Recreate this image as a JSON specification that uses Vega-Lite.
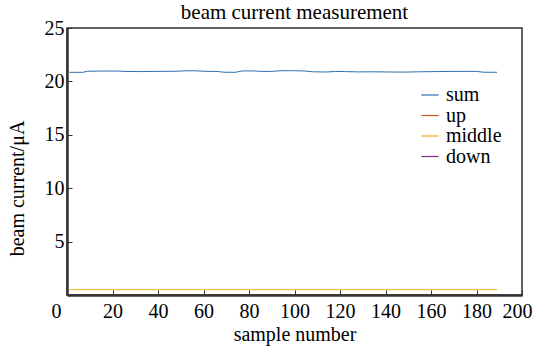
{
  "$schema": "https://vega.github.io/schema/vega-lite/v6.json",
  "width": 455,
  "height": 267,
  "padding": {"left": 67, "top": 28, "right": 17, "bottom": 58},
  "autosize": "none",
  "background": "white",
  "title": {"text": "beam current measurement", "font": "Liberation Serif, Times New Roman, serif", "fontSize": 21, "fontWeight": "normal", "color": "black", "offset": -5},
  "config": {
    "font": "Liberation Serif, Times New Roman, serif",
    "view": {"stroke": "#333", "strokeWidth": 1.5},
    "axis": {"labelFont": "Liberation Serif, Times New Roman, serif", "titleFont": "Liberation Serif, Times New Roman, serif", "labelFontSize": 20, "titleFontSize": 20, "titleFontWeight": "normal", "labelColor": "black", "titleColor": "black", "grid": false, "domainColor": "#333", "tickColor": "#333", "tickSize": -5, "domainWidth": 2.5, "labelFlush": false}
  },
  "datasets": {
    "sumdata": [
      {"sample": 1, "value": 20.85, "series": "sum"},
      {"sample": 7, "value": 20.85, "series": "sum"},
      {"sample": 9, "value": 20.95, "series": "sum"},
      {"sample": 15, "value": 20.97, "series": "sum"},
      {"sample": 22, "value": 20.97, "series": "sum"},
      {"sample": 26, "value": 20.93, "series": "sum"},
      {"sample": 32, "value": 20.92, "series": "sum"},
      {"sample": 40, "value": 20.94, "series": "sum"},
      {"sample": 48, "value": 20.95, "series": "sum"},
      {"sample": 52, "value": 20.99, "series": "sum"},
      {"sample": 56, "value": 21.0, "series": "sum"},
      {"sample": 60, "value": 20.95, "series": "sum"},
      {"sample": 66, "value": 20.93, "series": "sum"},
      {"sample": 69, "value": 20.86, "series": "sum"},
      {"sample": 74, "value": 20.85, "series": "sum"},
      {"sample": 77, "value": 20.98, "series": "sum"},
      {"sample": 82, "value": 20.98, "series": "sum"},
      {"sample": 86, "value": 20.93, "series": "sum"},
      {"sample": 90, "value": 20.94, "series": "sum"},
      {"sample": 94, "value": 21.0, "series": "sum"},
      {"sample": 100, "value": 21.0, "series": "sum"},
      {"sample": 104, "value": 20.98, "series": "sum"},
      {"sample": 108, "value": 20.9, "series": "sum"},
      {"sample": 114, "value": 20.88, "series": "sum"},
      {"sample": 118, "value": 20.93, "series": "sum"},
      {"sample": 122, "value": 20.92, "series": "sum"},
      {"sample": 128, "value": 20.89, "series": "sum"},
      {"sample": 135, "value": 20.9, "series": "sum"},
      {"sample": 142, "value": 20.88, "series": "sum"},
      {"sample": 148, "value": 20.87, "series": "sum"},
      {"sample": 155, "value": 20.9, "series": "sum"},
      {"sample": 162, "value": 20.92, "series": "sum"},
      {"sample": 168, "value": 20.93, "series": "sum"},
      {"sample": 175, "value": 20.94, "series": "sum"},
      {"sample": 180, "value": 20.94, "series": "sum"},
      {"sample": 183, "value": 20.86, "series": "sum"},
      {"sample": 189, "value": 20.85, "series": "sum"}
    ],
    "lowdata": [
      {"sample": 1, "value": 0, "series": "up"},
      {"sample": 60, "value": 0, "series": "up"},
      {"sample": 120, "value": 0, "series": "up"},
      {"sample": 189, "value": 0, "series": "up"},
      {"sample": 1, "value": 0, "series": "down"},
      {"sample": 60, "value": 0, "series": "down"},
      {"sample": 120, "value": 0, "series": "down"},
      {"sample": 189, "value": 0, "series": "down"}
    ],
    "middata": [
      {"sample": 1, "value": 0.5, "series": "middle"},
      {"sample": 60, "value": 0.5, "series": "middle"},
      {"sample": 120, "value": 0.5, "series": "middle"},
      {"sample": 189, "value": 0.5, "series": "middle"}
    ]
  },
  "encoding": {
    "x": {"field": "sample", "type": "quantitative", "scale": {"domain": [0, 200], "nice": false}, "axis": {"values": [0, 20, 40, 60, 80, 100, 120, 140, 160, 180, 200], "title": "sample number", "titlePadding": 3, "labelPadding": 11, "zindex": 2,
      "labelOffset": {"condition": [{"test": "datum.value === 0", "value": -11}, {"test": "datum.value === 200", "value": -5}], "value": 0}}},
    "y": {"field": "value", "type": "quantitative", "scale": {"domain": [0, 25], "nice": false}, "axis": {"values": [5, 10, 15, 20, 25], "title": "beam current/μA", "titleX": -40, "titleY": 160, "labelPadding": 8, "zindex": 2}},
    "color": {"field": "series", "type": "nominal", "scale": {"domain": ["sum", "up", "middle", "down"], "range": ["#2f6fb0", "#D95319", "#EDB120", "#7E2F8E"]},
      "legend": {"title": null, "orient": "none", "legendX": 353, "legendY": 57, "symbolType": "stroke", "symbolSize": 300, "symbolStrokeWidth": 1.2, "labelFont": "Liberation Serif, Times New Roman, serif", "labelFontSize": 20, "labelColor": "black", "rowPadding": 0.5, "labelOffset": 6}}
  },
  "layer": [
    {"data": {"name": "sumdata"}, "mark": {"type": "line", "strokeWidth": 1, "interpolate": "linear"}},
    {"data": {"name": "lowdata"}, "mark": {"type": "line", "strokeWidth": 1}},
    {"data": {"name": "middata"}, "mark": {"type": "line", "strokeWidth": 1}}
  ]
}
